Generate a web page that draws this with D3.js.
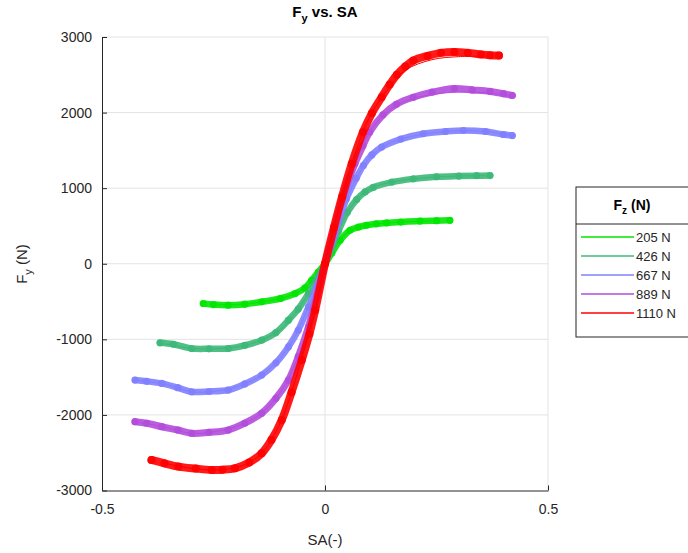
<!DOCTYPE html>
<html>
<head>
<meta charset="utf-8">
<script src="https://cdn.jsdelivr.net/npm/d3@7"></script>
<style>
  body { margin: 0; background: #fff; }
  svg text { font-family: "Liberation Sans", Arial, sans-serif; }
</style>
</head>
<body>
<div id="chart"></div>
<script>
// Fy vs SA - measured tire data (thick band) and fitted curves (thin lines)

const loads = ["205 N", "426 N", "667 N", "889 N", "1110 N"];
const colors = ["#00e600", "#3cb878", "#8080ff", "#b34ddc", "#ff0000"];

const xTicks = [-0.5, 0, 0.5];
const yTicks = [-3000, -2000, -1000, 0, 1000, 2000, 3000];

// measured points (slip angle, lateral force)
const sa205 = [-0.273, -0.25, -0.217, -0.18, -0.142, -0.10, -0.067, -0.045, -0.030, -0.015, 0, 0.015, 0.034, 0.056, 0.075, 0.093, 0.115, 0.138, 0.17, 0.213, 0.25, 0.28];
const fy205 = [-526, -540, -548, -535, -504, -460, -394, -320, -218, -110, 0, 140, 310, 443, 485, 509, 528, 540, 552, 565, 570, 574];

const sa426 = [-0.370, -0.34, -0.299, -0.26, -0.217, -0.18, -0.142, -0.11, -0.082, -0.06, -0.037, -0.018, 0, 0.018, 0.03, 0.05, 0.071, 0.09, 0.108, 0.15, 0.198, 0.25, 0.30, 0.34, 0.37];
const fy426 = [-1046, -1065, -1121, -1125, -1121, -1080, -1011, -910, -746, -600, -394, -200, 0, 250, 430, 680, 850, 950, 1010, 1080, 1123, 1150, 1160, 1165, 1167];

const sa667 = [-0.426, -0.40, -0.366, -0.33, -0.299, -0.26, -0.217, -0.18, -0.142, -0.11, -0.082, -0.06, -0.037, -0.018, 0, 0.02, 0.048, 0.07, 0.086, 0.105, 0.127, 0.17, 0.22, 0.27, 0.31, 0.36, 0.40, 0.42];
const fy667 = [-1539, -1555, -1583, -1640, -1694, -1690, -1671, -1590, -1473, -1310, -1099, -880, -571, -290, 0, 360, 860, 1130, 1300, 1440, 1544, 1650, 1720, 1750, 1763, 1750, 1710, 1696];

const sa889 = [-0.426, -0.40, -0.366, -0.33, -0.299, -0.26, -0.217, -0.18, -0.142, -0.11, -0.082, -0.06, -0.037, -0.018, 0, 0.02, 0.04, 0.067, 0.085, 0.10, 0.13, 0.16, 0.198, 0.24, 0.29, 0.33, 0.37, 0.40, 0.42];
const fy889 = [-2090, -2110, -2156, -2200, -2243, -2230, -2200, -2110, -1978, -1780, -1539, -1230, -835, -420, 0, 440, 882, 1324, 1560, 1740, 1970, 2110, 2203, 2270, 2318, 2300, 2280, 2250, 2226];

const sa1110 = [-0.389, -0.36, -0.329, -0.29, -0.254, -0.23, -0.202, -0.17, -0.142, -0.12, -0.097, -0.075, -0.052, -0.035, -0.022, 0, 0.02, 0.038, 0.06, 0.085, 0.105, 0.127, 0.145, 0.161, 0.18, 0.198, 0.23, 0.26, 0.29, 0.32, 0.35, 0.37, 0.39];
const fy1110 = [-2596, -2640, -2684, -2710, -2728, -2725, -2706, -2630, -2508, -2330, -2067, -1700, -1275, -930, -614, 0, 480, 882, 1324, 1740, 1990, 2203, 2370, 2500, 2610, 2688, 2750, 2790, 2800, 2790, 2770, 2760, 2754];

// fitted curves
const fitSa = [-0.42, -0.36, -0.30, -0.24, -0.18, -0.14, -0.10, -0.07, -0.04, -0.02, 0, 0.02, 0.04, 0.07, 0.10, 0.14, 0.18, 0.24, 0.30, 0.36, 0.42];
const fit205 = [-530, -530, -530, -543, -535, -502, -460, -400, -290, -150, 0, 190, 360, 475, 515, 538, 555, 567, 572, 574, 574];
const fit426 = [-1058, -1058, -1120, -1123, -1080, -1005, -870, -680, -420, -220, 0, 280, 560, 845, 990, 1070, 1110, 1145, 1160, 1166, 1166];
const fit667 = [-1543, -1590, -1694, -1682, -1590, -1465, -1240, -990, -610, -320, 0, 350, 730, 1130, 1400, 1580, 1665, 1730, 1760, 1750, 1696];
const fit889 = [-2095, -2160, -2243, -2215, -2110, -1965, -1700, -1370, -890, -460, 0, 440, 882, 1360, 1740, 2010, 2150, 2240, 2270, 2260, 2226];
const fit1110 = [-2620, -2640, -2705, -2726, -2660, -2495, -2100, -1600, -1000, -560, 0, 480, 920, 1500, 1940, 2300, 2560, 2700, 2740, 2745, 2745];

const series = [
  { name: loads[0], sa: sa205, fy: fy205, fit: fit205 },
  { name: loads[1], sa: sa426, fy: fy426, fit: fit426 },
  { name: loads[2], sa: sa667, fy: fy667, fit: fit667 },
  { name: loads[3], sa: sa889, fy: fy889, fit: fit889 },
  { name: loads[4], sa: sa1110, fy: fy1110, fit: fit1110 }
];

const width = 688, height = 553;
const margin = { top: 37, right: 140, bottom: 62, left: 102 };

const svg = d3.select("#chart").append("svg")
  .attr("width", width)
  .attr("height", height);

const x = d3.scaleLinear().domain([-0.5, 0.5]).range([margin.left, 548]);
const y = d3.scaleLinear().domain([-3000, 3000]).range([490.5, margin.top]);

const axisColor = "#262626";

// grid
svg.append("g")
  .selectAll("line")
  .data(xTicks.slice(1))
  .join("line")
  .attr("x1", d => x(d)).attr("x2", d => x(d))
  .attr("y1", y(3000)).attr("y2", y(-3000))
  .attr("stroke", "#e3e3e3").attr("stroke-width", 1);

svg.append("g")
  .selectAll("line")
  .data(yTicks.slice(1))
  .join("line")
  .attr("x1", x(-0.5)).attr("x2", x(0.5))
  .attr("y1", d => y(d)).attr("y2", d => y(d))
  .attr("stroke", "#e3e3e3").attr("stroke-width", 1);

// axes
const xAxis = svg.append("g")
  .attr("transform", `translate(0,${y(-3000)})`)
  .call(d3.axisBottom(x).tickValues(xTicks).tickSizeInner(-5).tickSizeOuter(0).tickPadding(14).tickFormat(d => String(d)));
xAxis.select(".domain").attr("stroke", axisColor);
xAxis.selectAll(".tick line").attr("stroke", axisColor);
xAxis.selectAll("text").attr("fill", axisColor).style("font-size", "14px");

const yAxis = svg.append("g")
  .attr("transform", `translate(${x(-0.5)},0)`)
  .call(d3.axisLeft(y).tickValues(yTicks).tickSizeInner(-5).tickSizeOuter(0).tickPadding(10).tickFormat(d => String(d)));
yAxis.select(".domain").attr("stroke", axisColor);
yAxis.selectAll(".tick line").attr("stroke", axisColor);
yAxis.selectAll("text").attr("fill", axisColor).style("font-size", "14px");

// data
const line = d3.line().x(d => x(d[0])).y(d => y(d[1])).curve(d3.curveCatmullRom);

series.forEach((s, i) => {
  const pts = s.sa.map((v, k) => [v, s.fy[k]]);
  const g = svg.append("g");
  g.append("path")
    .attr("d", line(pts))
    .attr("fill", "none")
    .attr("stroke", colors[i])
    .attr("stroke-width", i === 4 ? 8 : (i === 3 ? 7 : 6.5))
    .attr("stroke-linejoin", "round")
    .attr("stroke-linecap", "round")
    .attr("opacity", 0.9);
  g.selectAll("circle")
    .data(pts)
    .join("circle")
    .attr("cx", d => x(d[0]))
    .attr("cy", d => y(d[1]))
    .attr("r", i === 4 ? 4 : 3.6)
    .attr("fill", colors[i])
    .attr("opacity", 0.9);
  const fitPts = fitSa.map((v, k) => [v, s.fit[k]])
    .filter(d => d[0] >= s.sa[0] - 0.005 && d[0] <= s.sa[s.sa.length - 1] + 0.005);
  g.append("path")
    .attr("d", line(fitPts))
    .attr("fill", "none")
    .attr("stroke", colors[i])
    .attr("stroke-width", 1);
});

// title
const title = svg.append("text")
  .attr("x", 325).attr("y", 17)
  .attr("text-anchor", "middle")
  .attr("fill", "#000")
  .style("font-size", "15px")
  .style("font-weight", "bold");
title.append("tspan").text("F");
title.append("tspan").attr("dy", 5).style("font-size", "11px").text("y");
title.append("tspan").attr("dy", -5).text(" vs. SA");

// axis labels
svg.append("text")
  .attr("x", 325).attr("y", 545)
  .attr("text-anchor", "middle")
  .attr("fill", axisColor)
  .style("font-size", "15px")
  .text("SA(-)");

const yl = svg.append("text")
  .attr("transform", `translate(27,264) rotate(-90)`)
  .attr("text-anchor", "middle")
  .attr("fill", axisColor)
  .style("font-size", "15px");
yl.append("tspan").text("F");
yl.append("tspan").attr("dy", 5).style("font-size", "11px").text("y");
yl.append("tspan").attr("dy", -5).text(" (N)");

// legend
const lg = svg.append("g").attr("transform", "translate(576,187)");
lg.append("rect")
  .attr("width", 120).attr("height", 150)
  .attr("fill", "#fff").attr("stroke", axisColor).attr("stroke-width", 1);
lg.append("line")
  .attr("x1", 0).attr("x2", 120).attr("y1", 37).attr("y2", 37)
  .attr("stroke", axisColor);
const lt = lg.append("text")
  .attr("x", 56).attr("y", 23)
  .attr("text-anchor", "middle")
  .style("font-size", "14px").style("font-weight", "bold").attr("fill", "#000");
lt.append("tspan").text("F");
lt.append("tspan").attr("dy", 4).style("font-size", "10px").text("z");
lt.append("tspan").attr("dy", -4).text(" (N)");

loads.forEach((name, i) => {
  const row = lg.append("g").attr("transform", `translate(0,${50 + i * 19})`);
  row.append("line")
    .attr("x1", 5).attr("x2", 58)
    .attr("stroke", colors[i]).attr("stroke-width", 1.5);
  row.append("text")
    .attr("x", 60).attr("y", 5)
    .style("font-size", "13px").attr("fill", axisColor)
    .text(name);
});
</script>
</body>
</html>
